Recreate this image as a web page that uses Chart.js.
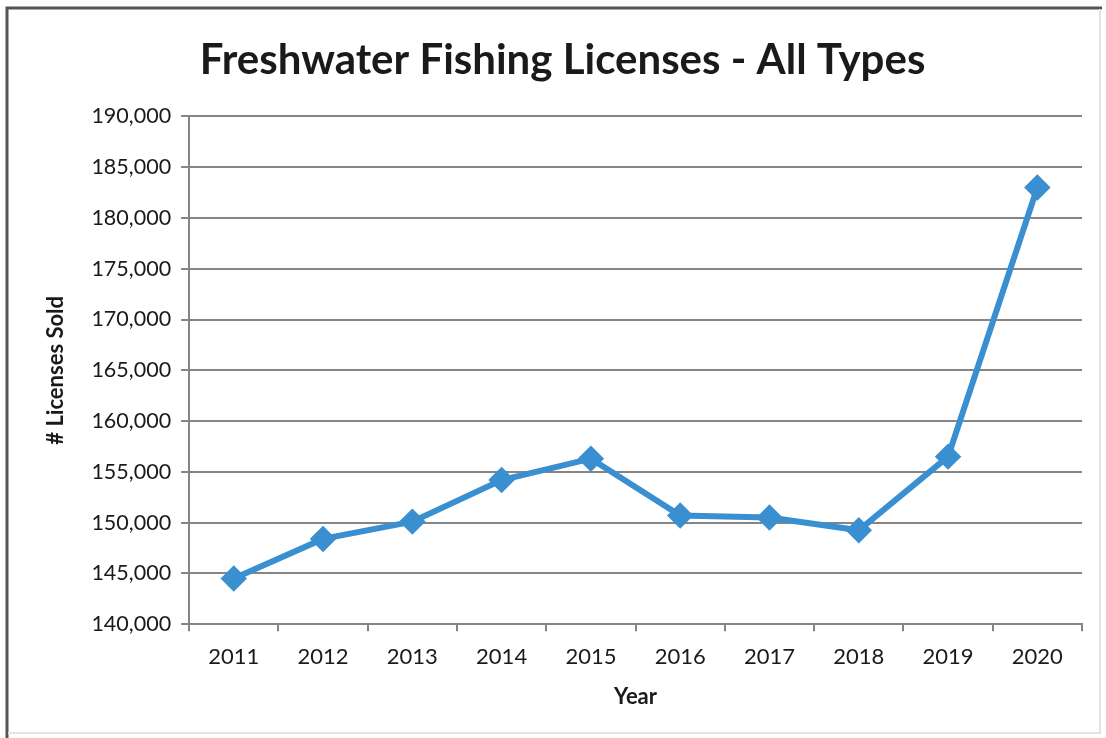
<!DOCTYPE html>
<html>
<head>
<meta charset="utf-8">
<script src="https://cdn.jsdelivr.net/npm/chart.js@4"></script>
<style>
  html, body { margin: 0; padding: 0; background: #fff; }
  #wrap { width: 1106px; height: 738px; }
</style>
</head>
<body>
<div id="wrap"><canvas id="chart" width="1106" height="738"></canvas></div>
<script>
const years = ['2011', '2012', '2013', '2014', '2015', '2016', '2017', '2018', '2019', '2020'];
const licensesSold = [144500, 148400, 150100, 154200, 156300, 150700, 150500, 149250, 156500, 183000];

const yMin = 140000;
const yMax = 190000;
const yStep = 5000;

const fontFamily = "Lato, 'Open Sans', sans-serif";
const lineColor = '#3a8fd0';
const gridColor = '#858585';

// frame round the chart, like the scanned page
const framePlugin = {
    id: 'frame',
    beforeDraw(chart) {
        const ctx = chart.ctx;
        ctx.save();
        ctx.fillStyle = '#fff';
        ctx.fillRect(0, 0, chart.width, chart.height);
        ctx.strokeStyle = '#555';
        ctx.lineWidth = 3;
        ctx.beginPath();
        ctx.moveTo(7, 738);
        ctx.lineTo(7, 8);
        ctx.lineTo(1102, 8);
        ctx.stroke();
        ctx.strokeStyle = '#e4e4e4';
        ctx.lineWidth = 2;
        ctx.beginPath();
        ctx.moveTo(8, 733);
        ctx.lineTo(1100, 733);
        ctx.lineTo(1100, 9);
        ctx.stroke();
        ctx.restore();
    }
};

const ctx = document.getElementById('chart').getContext('2d');
const myChart = new Chart(ctx, {
    type: 'line',
    data: {
        labels: years,
        datasets: [{
            label: 'Licenses Sold',
            data: licensesSold,
            borderColor: lineColor,
            backgroundColor: lineColor,
            borderWidth: 6,
            pointStyle: 'rectRot',
            pointRadius: 9,
            pointHoverRadius: 9,
            pointBackgroundColor: lineColor,
            pointBorderColor: lineColor,
            tension: 0
        }]
    },
    options: {
        responsive: false,
        animation: false,
        layout: {
            padding: { left: 43, right: 24, top: 18, bottom: 28 }
        },
        plugins: {
            legend: { display: false },
            tooltip: { enabled: false },
            title: {
                display: true,
                text: 'Freshwater Fishing Licenses - All Types',
                color: '#1a1a1a',
                font: { family: fontFamily, size: 42, weight: 'bold' },
                padding: { top: 17, bottom: 31 }
            }
        },
        scales: {
            x: {
                offset: true,
                grid: {
                    offset: true,
                    drawOnChartArea: false,
                    drawTicks: true,
                    tickLength: 7,
                    color: gridColor,
                    lineWidth: 2
                },
                border: { color: gridColor, width: 2 },
                ticks: {
                    color: '#1a1a1a',
                    font: { family: fontFamily, size: 22 },
                    padding: 13
                },
                title: {
                    display: true,
                    text: 'Year',
                    color: '#1a1a1a',
                    font: { family: fontFamily, size: 22, weight: 'bold' },
                    padding: { top: 0, bottom: 0 }
                }
            },
            y: {
                min: yMin,
                max: yMax,
                grid: {
                    color: gridColor,
                    lineWidth: 2,
                    drawTicks: true,
                    tickLength: 8
                },
                border: { color: gridColor, width: 2 },
                ticks: {
                    stepSize: yStep,
                    color: '#1a1a1a',
                    font: { family: fontFamily, size: 21.5 },
                    padding: 10,
                    callback: v => v.toLocaleString('en-US')
                },
                title: {
                    display: true,
                    text: '# Licenses Sold',
                    color: '#1a1a1a',
                    font: { family: fontFamily, size: 22, weight: 'bold' },
                    padding: { top: 0, bottom: 12 }
                }
            }
        }
    },
    plugins: [framePlugin]
});
</script>
</body>
</html>
